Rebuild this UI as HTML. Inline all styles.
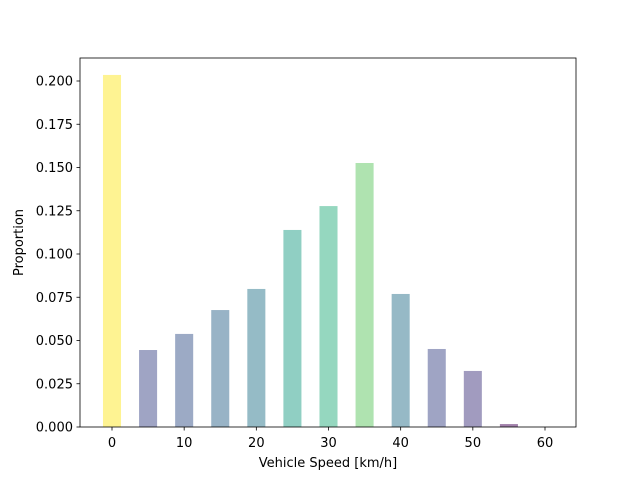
<!DOCTYPE html>
<html><head><meta charset="utf-8"><style>
body{margin:0;background:#fff;}
svg{display:block;font-family:"DejaVu Sans","Liberation Sans",sans-serif;}
</style></head><body>
<svg id="chart" width="640" height="480" viewBox="0 0 640 480" xmlns="http://www.w3.org/2000/svg"></svg>
<script>
const categories = [0,5,10,15,20,25,30,35,40,45,50,55,60];
const proportions = [0.2035,0.0445,0.0538,0.0676,0.0798,0.1139,0.1277,0.1526,0.0769,0.0451,0.0324,0.0017,0];
const xTicks = [0,10,20,30,40,50,60];
const yTicks = [0,0.025,0.05,0.075,0.1,0.125,0.15,0.175,0.2];

const NS="http://www.w3.org/2000/svg";
const svg=document.getElementById('chart');
const L=80,R=576,T=58,B=427;
const xS=v=>112+(v-0)*(545-112)/60;
const yS=v=>B-v*(B-81)/0.2;
function mk(tag,attrs,parent){const e=document.createElementNS(NS,tag);for(const k in attrs)e.setAttribute(k,attrs[k]);(parent||svg).appendChild(e);return e;}
const stops=["#440154","#482475","#414487","#355f8d","#2a788e","#21918c","#22a884","#44bf70","#7ad151","#bddf26","#fde725"];
function hex(h){return [1,3,5].map(i=>parseInt(h.substr(i,2),16));}
function viridis(t){t=Math.max(0,Math.min(1,t));const p=t*10,i=Math.min(9,Math.floor(p)),f=p-i;const a=hex(stops[i]),b=hex(stops[i+1]);return a.map((c,k)=>Math.round((c+(b[k]-c)*f)*0.5+127.5));}
const maxV=Math.max(...proportions)||1;
const gBars=mk('g',{});


categories.forEach((c,i)=>{
  const v=proportions[i];const w=2.5*(545-112)/60;
  const col=viridis(v/maxV);
  const r=mk('rect',{x:xS(c)-w/2,y:yS(v),width:w,height:Math.max(0,B-yS(v)),fill:`rgb(${col.join(',')})`},gBars);
  
  
});
const frame=mk('rect',{x:L,y:T,width:R-L,height:B-T,fill:'none',stroke:'#000','stroke-width':0.8});


xTicks.forEach(t=>{
  const x=xS(t);
  mk('line',{x1:x,x2:x,y1:B,y2:B+3.5,stroke:'#000','stroke-width':0.8});
  const tx=mk('text',{x:x,y:B+20,'text-anchor':'middle','font-size':13});tx.textContent=t;
  
  
});
yTicks.forEach(t=>{
  const y=yS(t);
  mk('line',{x1:L-3.5,x2:L,y1:y,y2:y,stroke:'#000','stroke-width':0.8});
  const tx=mk('text',{x:L-7,y:y+4.5,'text-anchor':'end','font-size':13});tx.textContent=t.toFixed(3);
  
  
});
const xt=mk('text',{x:(L+R)/2,y:467,'text-anchor':'middle','font-size':13});xt.textContent='Vehicle Speed [km/h]';


const yt=mk('text',{x:23,y:(T+B)/2,'text-anchor':'middle','font-size':13,transform:`rotate(-90 23 ${(T+B)/2})`});yt.textContent='Proportion';


</script>
</body></html>
